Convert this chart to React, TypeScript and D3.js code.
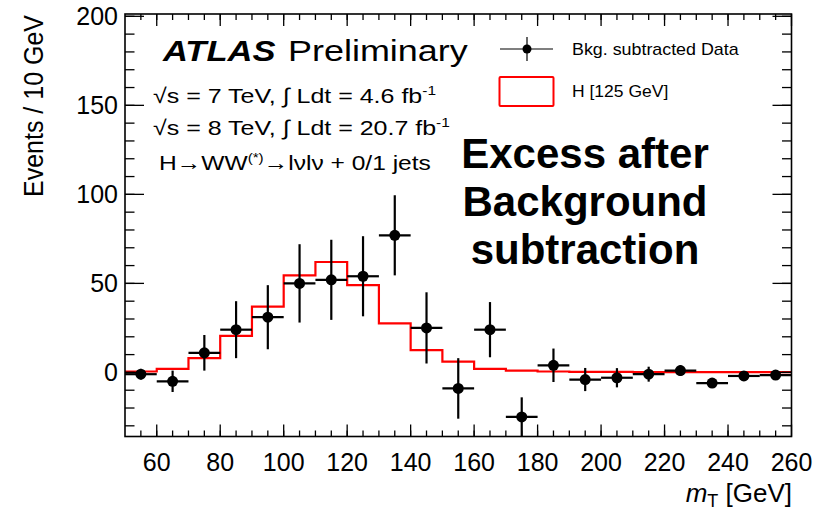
import React from "react";
import * as d3 from "d3";

const binCenters = [55, 65, 75, 85, 95, 105, 115, 125, 135, 145, 155, 165, 175, 185, 195, 205, 215, 225, 235, 245, 255];
const dataValues = [-1, -5, 11, 24, 31, 50, 52, 54, 77, 25, -9, 24, -25, 4, -4, -3, -1, 1, -6, -2, -1.5];
const dataErrors = [3, 6, 10, 16, 18, 22, 22.5, 22.5, 22.5, 20, 17, 15.5, 11, 9.4, 6.5, 5.4, 4.2, 3, 1, 1, 1];
const binEdges = [50, 60, 70, 80, 90, 100, 110, 120, 130, 140, 150, 160, 170, 180, 190, 200, 210, 220, 230, 240, 250, 260];
const signalValues = [0.5, 2, 8, 20.5, 37, 54.5, 62, 49, 27.5, 12.5, 6, 2, 1, 0.5, 0.3, 0.3, 0.2, 0.2, 0.2, 0.2, 0.2];
const yMajorTicks = [0, 50, 100, 150, 200];
const xMajorTicks = [60, 80, 100, 120, 140, 160, 180, 200, 220, 240, 260];
const annotationLines = ["Excess after", "Background", "subtraction"];

const FONT = "'Liberation Sans', Arial, Helvetica, sans-serif";

export default function App() {
  const L = 125, R = 791.5, T = 14, B = 436.5;
  const x = d3.scaleLinear().domain([50, 260]).range([L, R]);
  const y = d3.scaleLinear().domain([-36, 201.3]).range([B, T]);

  const yMinor = d3.range(-30, 201, 10);
  const xMinor = d3.range(55, 260, 5);

  const stepLine = d3.line<[number, number]>().x(d => d[0]).y(d => d[1]);
  const stepPts: [number, number][] = [];
  signalValues.forEach((v, i) => {
    stepPts.push([x(binEdges[i]), y(v)]);
    stepPts.push([x(binEdges[i + 1]), y(v)]);
  });

  const stretch = (tx: number, ty: number, sx: number) => `translate(${tx},${ty}) scale(${sx},1)`;

  return (
    <svg width={827} height={510} style={{ position: "absolute", left: 0, top: 0, background: "#fff" }} fontFamily={FONT}>
      <rect x={0} y={0} width={827} height={510} fill="#fff" />
      {/* signal histogram */}
      <path d={stepLine(stepPts) || ""} fill="none" stroke="#f00" strokeWidth={2.2} />
      {/* data */}
      {binCenters.map((c, i) => {
        const v = dataValues[i];
        const e = dataErrors[i];
        const lo = Math.max(v - e, -36);
        return (
          <g key={i}>
            <line x1={x(c - 5)} x2={x(c + 5)} y1={y(v)} y2={y(v)} stroke="#000" strokeWidth={2.2} />
            <line x1={x(c)} x2={x(c)} y1={y(v + e)} y2={y(lo)} stroke="#000" strokeWidth={2.2} />
            <circle cx={x(c)} cy={y(v)} r={5.5} fill="#000" />
          </g>
        );
      })}
      {/* frame */}
      <rect x={L} y={T} width={R - L} height={B - T} fill="none" stroke="#000" strokeWidth={1.6} />
      {/* y ticks */}
      {yMinor.map(t => (
        <g key={"ym" + t}>
          <line x1={L} x2={L + 9.5} y1={y(t)} y2={y(t)} stroke="#000" strokeWidth={1.3} />
          <line x1={R} x2={R - 9.5} y1={y(t)} y2={y(t)} stroke="#000" strokeWidth={1.3} />
        </g>
      ))}
      {yMajorTicks.map(t => (
        <g key={"yM" + t}>
          <line x1={L} x2={L + 19} y1={y(t)} y2={y(t)} stroke="#000" strokeWidth={1.3} />
          <line x1={R} x2={R - 19} y1={y(t)} y2={y(t)} stroke="#000" strokeWidth={1.3} />
          <text x={118} y={y(t)} dy="0.36em" textAnchor="end" fontSize={25}>{t}</text>
        </g>
      ))}
      {/* x ticks */}
      {xMinor.map(t => (
        <g key={"xm" + t}>
          <line x1={x(t)} x2={x(t)} y1={B} y2={B - 6} stroke="#000" strokeWidth={1.3} />
          <line x1={x(t)} x2={x(t)} y1={T} y2={T + 6} stroke="#000" strokeWidth={1.3} />
        </g>
      ))}
      {xMajorTicks.map(t => (
        <g key={"xM" + t}>
          <line x1={x(t)} x2={x(t)} y1={B} y2={B - 12} stroke="#000" strokeWidth={1.3} />
          <line x1={x(t)} x2={x(t)} y1={T} y2={T + 12} stroke="#000" strokeWidth={1.3} />
          <text x={x(t)} y={471} textAnchor="middle" fontSize={25}>{t}</text>
        </g>
      ))}
      {/* axis titles */}
      <text transform="translate(43,15) rotate(-90) scale(1,1.12)" textAnchor="end" fontSize={25}>Events / 10 GeV</text>
      <text x={792} y={502} textAnchor="end" fontSize={26}>
        <tspan fontStyle="italic">m</tspan>
        <tspan fontSize={18} dy={5}>T</tspan>
        <tspan dy={-5}> [GeV]</tspan>
      </text>
      {/* ATLAS label */}
      <g transform={stretch(163, 61, 1.19)}>
        <text x={0} y={0} fontSize={29} fontWeight="bold" fontStyle="italic">ATLAS</text>
      </g>
      <g transform={stretch(288, 61, 1.24)}>
        <text x={0} y={0} fontSize={29}>Preliminary</text>
      </g>
      <g transform={stretch(153, 103, 1.19)} fontSize={21}>
        <text x={0} y={0}>√s = 7 TeV, ∫ Ldt = 4.6 fb<tspan dy={-8} fontSize={13}>-1</tspan></text>
      </g>
      <g transform={stretch(153, 135, 1.19)} fontSize={21}>
        <text x={0} y={0}>√s = 8 TeV, ∫ Ldt = 20.7 fb<tspan dy={-8} fontSize={13}>-1</tspan></text>
      </g>
      <g transform={stretch(159, 170, 1.17)} fontSize={21}>
        <text x={0} y={0}>H→WW<tspan dy={-8} fontSize={13}>(*)</tspan><tspan dy={8}>→lνlν + 0/1 jets</tspan></text>
      </g>
      {/* legend */}
      <line x1={500} x2={553} y1={49} y2={49} stroke="#000" strokeWidth={1.2} />
      <line x1={527} x2={527} y1={37} y2={61} stroke="#000" strokeWidth={1.2} />
      <circle cx={527} cy={49} r={4.5} fill="#000" />
      <g transform={stretch(572, 49, 1.05)}>
        <text x={0} y={0} dy="0.36em" fontSize={17}>Bkg. subtracted Data</text>
      </g>
      <rect x={499.5} y={77} width={54} height={29} fill="none" stroke="#f00" strokeWidth={2} rx={1} />
      <g transform={stretch(572, 91, 1.03)}>
        <text x={0} y={0} dy="0.36em" fontSize={17}>H [125 GeV]</text>
      </g>
      {/* annotation */}
      {annotationLines.map((s, i) => (
        <text key={s} x={585} y={168 + i * 48} textAnchor="middle" fontSize={42} fontWeight="bold">{s}</text>
      ))}
    </svg>
  );
}
